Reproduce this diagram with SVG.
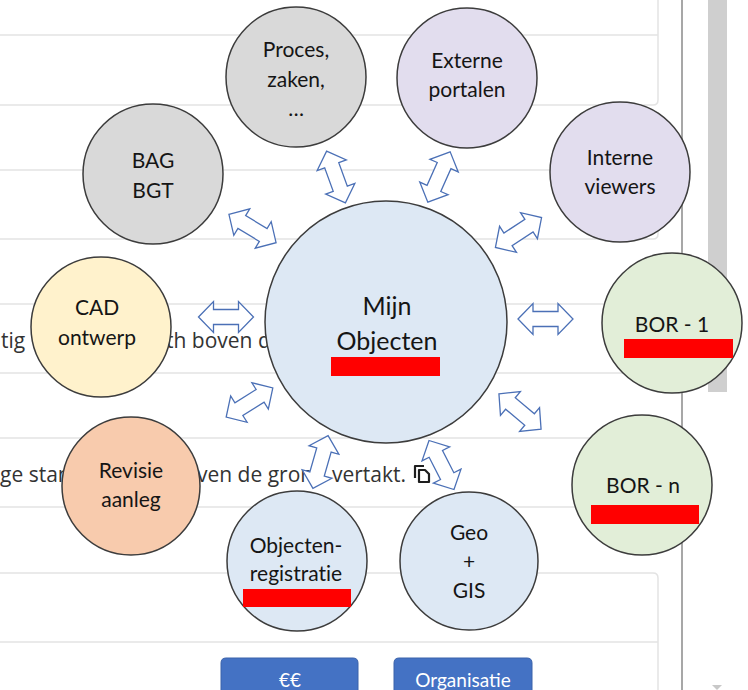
<svg xmlns="http://www.w3.org/2000/svg" xmlns:xlink="http://www.w3.org/1999/xlink" width="748" height="690" viewBox="0 0 748 690">
<style>
.bgline{stroke:#e3e3e3;stroke-width:1.5;fill:none}
.bgtext{font-family:"Open Sans","Noto Sans",sans-serif;font-size:21px;fill:#333}
.node circle{stroke:#3c3c3c;stroke-width:1.5}
.lbl{font-family:Lato,"Liberation Sans",sans-serif;font-size:21px;fill:#151515;text-anchor:middle;font-variant-ligatures:none}
.big{font-size:25px}
.arrow{fill:#ffffff;stroke:#4b70b6;stroke-width:1.3;stroke-linejoin:miter}
.red{fill:#ff0000}
.gray{fill:#d9d9d9}
.lav{fill:#e2ddee}
.blue{fill:#dde8f4}
.green{fill:#e2eed8}
.yellow{fill:#fff2cc}
.peach{fill:#f8cbad}
.btn{fill:#4472c4;stroke:#3b62aa;stroke-width:1}
.btntext{font-family:Lato,"Liberation Sans",sans-serif;font-size:19px;fill:#ffffff;text-anchor:middle}
</style>
<defs>
<path id="dbl" d="M-27.5,0 L-12.5,-15.5 L-12.5,-7.5 L12.5,-7.5 L12.5,-15.5 L27.5,0 L12.5,15.5 L12.5,7.5 L-12.5,7.5 L-12.5,15.5 Z"/>
</defs>
<rect x="0" y="0" width="748" height="690" fill="#ffffff"/>
<g id="page">
<line class="bgline" x1="0" y1="35" x2="658" y2="35"/>
<path class="bgline" d="M0,105 H653 Q658,105 658,100 V0"/>
<line class="bgline" x1="0" y1="170" x2="658" y2="170"/>
<path class="bgline" d="M0,239 H653 Q658,239 658,234 V112"/>
<line class="bgline" x1="0" y1="304" x2="658" y2="304"/>
<line class="bgline" x1="0" y1="373" x2="658" y2="373"/>
<line class="bgline" x1="0" y1="438" x2="658" y2="438"/>
<line class="bgline" x1="0" y1="507" x2="658" y2="507"/>
<path class="bgline" d="M0,573 H653 Q658,573 658,578 V690"/>
<line class="bgline" x1="0" y1="642" x2="658" y2="642"/>
<text class="bgtext" x="1" y="348">tig</text>
<text class="bgtext" x="166" y="348">th boven d</text>
<text class="bgtext" x="0" y="482">ge stan</text>
<text class="bgtext" x="197" y="482">ven de gron</text>
<text class="bgtext" x="332" y="482">vertakt.</text>
<g fill="none" stroke="#1e1e1e" stroke-width="2.2" stroke-linejoin="round">
<path d="M415,478 V466 H424"/>
<path d="M419,470 H425 L429,474 V482 H419 Z"/>
</g>
<line x1="682" y1="0" x2="682" y2="690" stroke="#8a8a8a" stroke-width="1.5"/>
<rect x="708" y="0" width="19" height="392" fill="#cfcfcf"/>
<path d="M712,685 L722,685 L717,690 Z" fill="#c8c8c8"/>
<path class="btn" d="M221,692 V663 Q221,658 226,658 H353 Q358,658 358,663 V692 Z"/>
<text class="btntext" x="290" y="687">€€</text>
<path class="btn" d="M394,692 V663 Q394,658 399,658 H527 Q532,658 532,663 V692 Z"/>
<text class="btntext" x="463" y="687">Organisatie</text>
</g>
<g id="connectors">
<use xlink:href="#dbl" class="arrow" transform="translate(336,177) rotate(70)"/>
<use xlink:href="#dbl" class="arrow" transform="translate(439,177) rotate(114)"/>
<use xlink:href="#dbl" class="arrow" transform="translate(518.5,232.5) rotate(-33)"/>
<use xlink:href="#dbl" class="arrow" transform="translate(545.5,319)"/>
<use xlink:href="#dbl" class="arrow" transform="translate(520,411.5) rotate(40)"/>
<use xlink:href="#dbl" class="arrow" transform="translate(441.5,465) rotate(63)"/>
<use xlink:href="#dbl" class="arrow" transform="translate(320.5,462) rotate(106)"/>
<use xlink:href="#dbl" class="arrow" transform="translate(249.5,402.5) rotate(148)"/>
<use xlink:href="#dbl" class="arrow" transform="translate(226,317)"/>
<use xlink:href="#dbl" class="arrow" transform="translate(252.5,228.5) rotate(31)"/>
</g>
<g id="node-proces" class="node">
<circle class="gray" cx="296" cy="77" r="70"/>
<text class="lbl" x="296" y="57">Proces,</text>
<text class="lbl" x="296" y="87">zaken,</text>
<text class="lbl" x="296" y="116">…</text>
</g>
<g id="node-externe" class="node">
<circle class="lav" cx="467" cy="78" r="70"/>
<text class="lbl" x="467" y="68">Externe</text>
<text class="lbl" x="467" y="97">portalen</text>
</g>
<g id="node-bag" class="node">
<circle class="gray" cx="153" cy="174" r="70"/>
<text class="lbl" x="153" y="168">BAG</text>
<text class="lbl" x="153" y="198">BGT</text>
</g>
<g id="node-interne" class="node">
<circle class="lav" cx="620" cy="172" r="70"/>
<text class="lbl" x="620" y="165">Interne</text>
<text class="lbl" x="620" y="194">viewers</text>
</g>
<g id="node-cad" class="node">
<circle class="yellow" cx="101" cy="327" r="70"/>
<text class="lbl" x="97" y="315">CAD</text>
<text class="lbl" x="97" y="345">ontwerp</text>
</g>
<g id="node-mijn" class="node">
<circle class="blue" cx="386" cy="322" r="121"/>
<text class="lbl big" x="387" y="315">Mijn</text>
<text class="lbl big" x="387" y="350">Objecten</text>
<rect class="red" x="331" y="357" width="109" height="19"/>
</g>
<g id="node-bor1" class="node">
<circle class="green" cx="672" cy="323" r="70"/>
<text class="lbl" x="672" y="332">BOR - 1</text>
<rect class="red" x="624" y="339" width="109" height="19"/>
</g>
<g id="node-revisie" class="node">
<circle class="peach" cx="131" cy="486" r="69"/>
<text class="lbl" x="131" y="478">Revisie</text>
<text class="lbl" x="131" y="507">aanleg</text>
</g>
<g id="node-born" class="node">
<circle class="green" cx="642" cy="485" r="70"/>
<text class="lbl" x="643" y="493">BOR - n</text>
<rect class="red" x="591" y="505" width="108" height="19"/>
</g>
<g id="node-objreg" class="node">
<circle class="blue" cx="297" cy="561" r="70"/>
<text class="lbl" x="296" y="553">Objecten-</text>
<text class="lbl" x="296" y="581">registratie</text>
<rect class="red" x="243" y="589" width="108" height="18"/>
</g>
<g id="node-geo" class="node">
<circle class="blue" cx="469" cy="561" r="69"/>
<text class="lbl" x="469" y="540">Geo</text>
<text class="lbl" x="469" y="569">+</text>
<text class="lbl" x="469" y="598">GIS</text>
</g>
</svg>
